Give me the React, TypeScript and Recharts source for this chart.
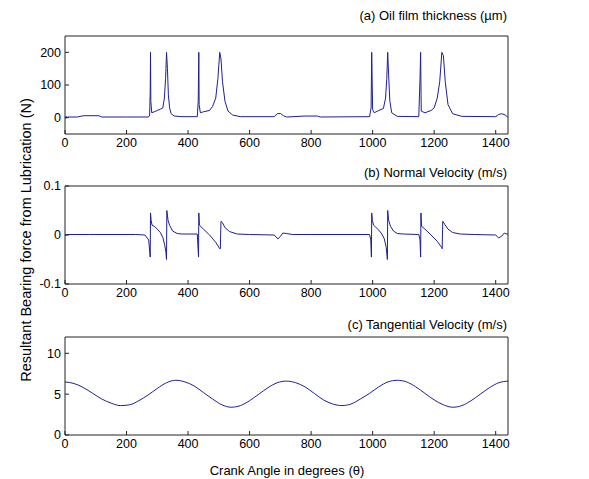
import { LineChart, Line, XAxis, YAxis } from "recharts";

// (a) oil film thickness
const filmAngle = [
  0, 2, 4, 6, 10, 40, 60, 110, 120, 200, 270, 275, 277, 278, 279, 282, 290, 300, 310, 318, 323, 327,
  330, 333, 336, 340, 345, 355, 380, 430, 433, 435, 436, 440, 450, 470, 480, 490, 497, 503, 507,
  512, 520, 530, 545, 570, 680, 690, 700, 710, 720, 780, 820, 830, 990, 995, 997, 998, 1000, 1005,
  1020, 1035, 1042, 1046, 1049, 1052, 1056, 1062, 1080, 1150, 1154, 1156, 1158, 1170, 1190, 1200,
  1210, 1218, 1225, 1230, 1236, 1245, 1260, 1290, 1400, 1410, 1420, 1432, 1440,
];
const filmValue = [
  3, -2, 4, 0, 2, 2, 6, 6, 2, 2, 2, 5, 80, 200, 50, 15, 18, 22, 26, 30, 60, 120,
  200, 150, 70, 30, 12, 5, 3, 3, 50, 200, 40, 15, 18, 22, 35, 60, 120, 200, 180,
  110, 50, 20, 8, 3, 3, 12, 13, 6, 2, 5, 5, 2, 3, 30, 200, 140, 25, 15,
  22, 28, 60, 120, 200, 130, 50, 15, 4, 3, 120, 200, 20, 15, 22, 30,
  60, 110, 200, 190, 110, 40, 12, 4, 3, 10, 12, 8, 0,
];

// (b) normal velocity
const normAngle = [
  0, 2, 4, 80, 230, 260, 272, 277, 278, 280, 283, 290, 300, 310, 318, 324, 328, 330, 331, 335, 340,
  350, 365, 380, 430, 434, 435, 437, 450, 470, 490, 503, 505, 507, 512, 520, 535, 560, 600, 680,
  692, 700, 708, 720, 740, 800, 990, 994, 996, 997, 999, 1003, 1010, 1020, 1030, 1038, 1044, 1048,
  1049, 1052, 1058, 1068, 1080, 1100, 1150, 1154, 1156, 1157, 1159, 1170, 1190, 1210, 1224, 1226,
  1228, 1234, 1245, 1260, 1285, 1330, 1400, 1410, 1420, 1428, 1436, 1440,
];
const normValue = [
  0.002, -0.002, 0.001, 0.001, 0.001, 0, -0.01, -0.045, 0.045, 0.03, 0.02, 0.018, 0.012, 0.005, -0.005, -0.02, -0.035, -0.05, 0.05, 0.03, 0.02,
  0.008, 0.003, 0.002, 0.002, -0.045, 0.045, 0.02, 0.012, 0, -0.015, -0.028, -0.028, 0.028, 0.025, 0.015, 0.007, 0.002, 0.001, 0,
  -0.008, -0.003, 0.004, 0.003, 0.001, 0.001, 0.001, -0.01, -0.045, 0.045, 0.03, 0.02, 0.016, 0.01, 0.002, -0.008, -0.025, -0.05,
  0.05, 0.03, 0.018, 0.008, 0.003, 0.002, 0.001, -0.01, -0.045, 0.045, 0.018, 0.012, 0, -0.013, -0.025, -0.028,
  0.028, 0.022, 0.012, 0.005, 0.002, 0.001, 0, -0.006, -0.002, 0.004, 0.002, 0.002,
];

// (c) tangential velocity
const tanAngle = [
  0, 30, 60, 90, 120, 150, 180, 210, 240, 270, 300, 330, 360, 390, 420, 450, 480, 510, 540, 570,
  600, 630, 660, 690, 720, 750, 780, 810, 840, 870, 900, 930, 960, 990, 1020, 1050, 1080, 1110,
  1140, 1170, 1200, 1230, 1260, 1290, 1320, 1350, 1380, 1410, 1440,
];
const tanValue = [
  6.5, 6.3, 5.8, 5.1, 4.4, 3.9, 3.6, 3.7, 4.2, 4.9, 5.7, 6.4, 6.7, 6.5, 6.0, 5.2, 4.4, 3.7, 3.4, 3.6,
  4.2, 5.0, 5.8, 6.4, 6.6, 6.4, 5.9, 5.1, 4.3, 3.8, 3.6, 3.8, 4.4, 5.1, 5.9, 6.5, 6.7, 6.5,
  5.9, 5.1, 4.3, 3.7, 3.4, 3.6, 4.2, 5.0, 5.8, 6.4, 6.6,
];

const xTicks = [0, 200, 400, 600, 800, 1000, 1200, 1400];

const FONT = "'Liberation Sans', Arial, sans-serif";
const AX = "#222";
const LINE = "#1f1f8f";
const tickStyle = { fontSize: 12.5, fill: "#000", fontFamily: FONT };

function Panel({
  top,
  data,
  domain,
  yTicks,
  smooth,
}: {
  top: number;
  data: { angle: number; v: number }[];
  domain: [number, number];
  yTicks: number[];
  smooth?: boolean;
}) {
  return (
    <div style={{ position: "absolute", left: 0, top }}>
      <LineChart width={589} height={158} data={data} margin={{ top: 35, right: 80, bottom: 0, left: 0 }}>
        <XAxis
          type="number"
          dataKey="angle"
          domain={[0, 1440]}
          ticks={xTicks}
          allowDataOverflow
          height={24}
          tickSize={-4}
          tickMargin={8}
          tick={tickStyle}
          stroke={AX}
        />
        <XAxis
          xAxisId="top"
          orientation="top"
          type="number"
          domain={[0, 1440]}
          ticks={xTicks}
          height={1}
          tickSize={-4}
          tick={false}
          stroke={AX}
        />
        <YAxis
          type="number"
          domain={domain}
          ticks={yTicks}
          allowDataOverflow
          width={65}
          tickSize={-4}
          tickMargin={8}
          tick={tickStyle}
          stroke={AX}
        />
        <YAxis
          yAxisId="right"
          orientation="right"
          type="number"
          domain={domain}
          ticks={yTicks}
          width={1}
          tickSize={-4}
          tick={false}
          stroke={AX}
        />
        <Line
          type={smooth ? "monotone" : "linear"}
          dataKey="v"
          stroke={LINE}
          strokeWidth={1}
          dot={false}
          isAnimationActive={false}
        />
      </LineChart>
    </div>
  );
}

const titleStyle = (top: number): React.CSSProperties => ({
  position: "absolute",
  top,
  right: 589 - 507,
  fontFamily: FONT,
  fontSize: 13,
  lineHeight: "15px",
  whiteSpace: "nowrap",
});

export default function App() {
  const film = filmAngle.map((a, i) => ({ angle: a, v: filmValue[i] }));
  const norm = normAngle.map((a, i) => ({ angle: a, v: normValue[i] }));
  const tan = tanAngle.map((a, i) => ({ angle: a, v: tanValue[i] }));

  return (
    <div style={{ position: "absolute", left: 0, top: 0, width: 589, height: 479, background: "#fff", overflow: "hidden" }}>
      <Panel top={0} data={film} domain={[-50, 250]} yTicks={[0, 100, 200]} />
      <Panel top={150} data={norm} domain={[-0.1, 0.1]} yTicks={[-0.1, 0, 0.1]} />
      <Panel top={301} data={tan} domain={[0, 12]} yTicks={[0, 5, 10]} smooth />
      <div style={titleStyle(8)}>(a) Oil film thickness (µm)</div>
      <div style={titleStyle(165)}>(b) Normal Velocity (m/s)</div>
      <div style={titleStyle(317)}>(c) Tangential Velocity (m/s)</div>
      <div
        style={{
          position: "absolute",
          left: 26,
          top: 240,
          transform: "translate(-50%, -50%) rotate(-90deg)",
          fontFamily: FONT,
          fontSize: 14.5,
          whiteSpace: "nowrap",
        }}
      >
        Resultant Bearing force from Lubrication (N)
      </div>
      <div
        style={{
          position: "absolute",
          left: 287,
          top: 470,
          transform: "translate(-50%, -50%)",
          fontFamily: FONT,
          fontSize: 13,
          whiteSpace: "nowrap",
        }}
      >
        Crank Angle in degrees (θ)
      </div>
    </div>
  );
}
